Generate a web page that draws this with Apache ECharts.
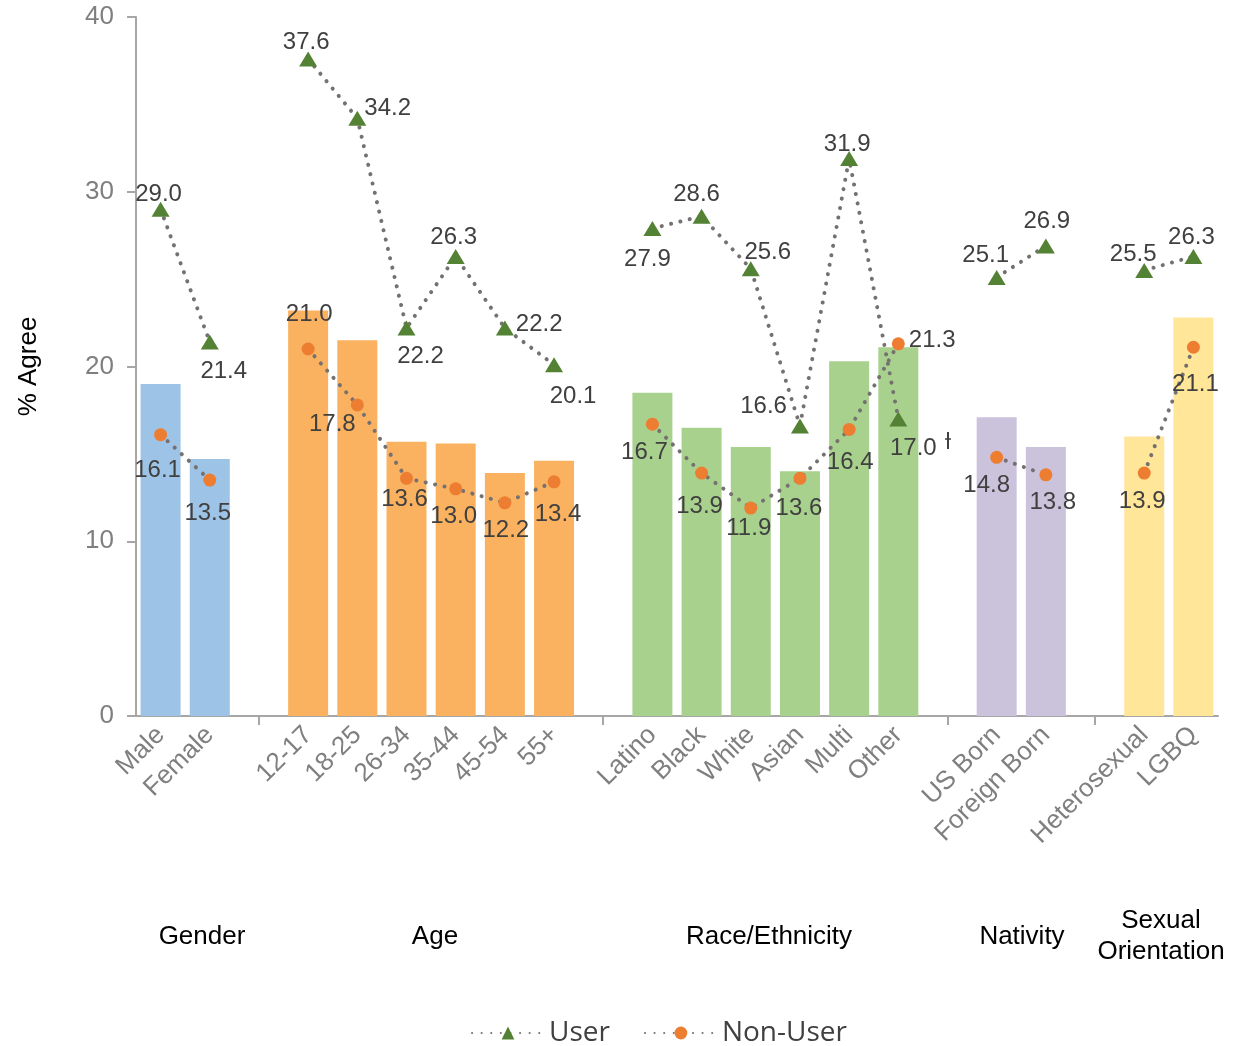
<!DOCTYPE html>
<html>
<head>
<meta charset="utf-8">
<script src="https://cdn.jsdelivr.net/npm/echarts@6/dist/echarts.min.js"></script>
<style>
html,body{margin:0;padding:0;background:#fff;}
#chart{width:1237px;height:1046px;}
</style>
</head>
<body>
<div id="chart"></div>
<script>
// ---- data ----
const categories = ['Male','Female','','12-17','18-25','26-34','35-44','45-54','55+','','Latino','Black','White','Asian','Multi','Other','','US Born','Foreign Born','','Heterosexual','LGBQ'];
const barValues = [19.0,14.7,null,23.2,21.5,15.7,15.6,13.9,14.6,null,18.5,16.5,15.4,14.0,20.3,21.1,null,17.1,15.4,null,16.0,22.8];
const userValues = [29.0,21.4,null,37.6,34.2,22.2,26.3,22.2,20.1,null,27.9,28.6,25.6,16.6,31.9,17.0,null,25.1,26.9,null,25.5,26.3];
const nonUserValues = [16.1,13.5,null,21.0,17.8,13.6,13.0,12.2,13.4,null,16.7,13.9,11.9,13.6,16.4,21.3,null,14.8,13.8,null,13.9,21.1];
const groupLabels = ['Gender','Age','Race/Ethnicity','Nativity','Sexual\nOrientation'];
const seriesNames = ['User','Non-User'];
const yTicks = [0,10,20,30,40];

// ---- styles ----
const groupColors = ['#9DC3E6','#FAB160','#A9D18E','#CBC2DC','#FFE699'];
const groupLabelX = [202,435,769,1022,1161];
const userLabelPos = [
  ['top',[-2,9]],['bottom',[14,6]],null,['top',[-2,7]],['right',[-6,-10]],['bottom',[14,5]],['top',[-2,4]],['right',[-2,-4]],['bottom',[19,8]],null,
  ['bottom',[-5,7]],['top',[-5,2]],['top',[17,7]],['left',[0,-20]],['top',[-2,9]],['bottom',[15,6]],null,['top',[-11,1]],['top',[1,-1]],null,['top',[-11,7]],['top',[-2,4]]
];
const nonUserLabelPos = [
  ['bottom',[-3,13]],['bottom',[-2,11]],null,['top',[1,-12]],['bottom',[-25,-3]],['bottom',[-2,-1]],['bottom',[-2,5]],['bottom',[1,5]],['bottom',[4,10]],null,
  ['bottom',[-8,6]],['bottom',[-2,11]],['bottom',[-2,-2]],['bottom',[-1,8]],['bottom',[1,10]],['right',[0,-3]],null,['bottom',[-10,6]],['bottom',[7,5]],null,['bottom',[-2,6]],['bottom',[2,15]]
];

// group index for each category
const groupIdx = [];
(function(){ let g = 0; categories.forEach(c => { if (c === '') { g++; groupIdx.push(-1); } else groupIdx.push(g); }); })();

const barData = barValues.map((v,i) => v == null ? null : ({value:v, itemStyle:{color:groupColors[groupIdx[i]]}}));
function lineData(vals, pos){
  return vals.map((v,i) => {
    if (v == null) return null;
    const p = pos[i];
    return {value:v, label:{position:p[0], offset:p[1]}};
  });
}

const FONT = 'Liberation Sans, Arial, sans-serif';
const labelStyle = {show:true, color:'#404040', fontSize:24, fontFamily:FONT, distance:4, formatter: p => p.value.toFixed(1)};
const dotLine = {color:'#767171', width:4, type:[0.1,9.5], cap:'round'};

const chart = echarts.init(document.getElementById('chart'));
const graphics = groupLabels.map((t,i) => ({
  type:'text', x: groupLabelX[i], y: (t.indexOf('\n')>=0 ? 936 : 937),
  style:{text:t, fill:'#000', fontSize:26, fontFamily:FONT, align:'center', verticalAlign:'middle', lineHeight:31}
}));
graphics.push({type:'line', shape:{x1:948,y1:432,x2:948,y2:449}, style:{stroke:'#404040', lineWidth:2}});
graphics.push({type:'line', shape:{x1:945,y1:439,x2:951,y2:439}, style:{stroke:'#404040', lineWidth:1.5}});

chart.setOption({
  animation:false,
  backgroundColor:'#fff',
  grid:{left:136, right:19, top:17, bottom:330, containLabel:false},
  legend:{
    data:seriesNames, bottom:-6, left:466, itemWidth:72, itemHeight:16, itemGap:34,
    textStyle:{color:'#404040', fontSize:28, fontFamily:'Open Sans, Liberation Sans, sans-serif'}
  },
  xAxis:{
    type:'category', data:categories, boundaryGap:true,
    axisLine:{lineStyle:{color:'#A6A6A6', width:2}},
    axisTick:{show:true, alignWithLabel:true, length:9, lineStyle:{color:'#A6A6A6', width:2},
      interval:(idx) => categories[idx] === ''},
    axisLabel:{interval:0, rotate:45, color:'#7F7F7F', fontSize:26, fontFamily:FONT, margin:15}
  },
  yAxis:{
    type:'value', min:0, max:40, interval:10,
    name:'% Agree', nameLocation:'middle', nameGap:94, nameRotate:90,
    nameTextStyle:{color:'#000', fontSize:26, fontFamily:FONT},
    axisLine:{show:true, lineStyle:{color:'#A6A6A6', width:2}},
    axisTick:{show:true, length:9, lineStyle:{color:'#A6A6A6', width:2}},
    splitLine:{show:false},
    axisLabel:{color:'#7F7F7F', fontSize:26, fontFamily:FONT, margin:22,
      formatter: v => yTicks.includes(v) ? String(v) : ''}
  },
  series:[
    {type:'bar', name:'Total', data:barData, barWidth:40, z:1, silent:true, legendHoverLink:false},
    {type:'line', name:seriesNames[0], data:lineData(userValues,userLabelPos), connectNulls:false,
      symbol:'triangle', symbolSize:[18,15], itemStyle:{color:'#548235'}, lineStyle:dotLine, label:labelStyle, z:3},
    {type:'line', name:seriesNames[1], data:lineData(nonUserValues,nonUserLabelPos), connectNulls:false,
      symbol:'circle', symbolSize:13, itemStyle:{color:'#ED7D31'}, lineStyle:dotLine, label:labelStyle, z:3}
  ],
  graphic:graphics
});
</script>
</body>
</html>
